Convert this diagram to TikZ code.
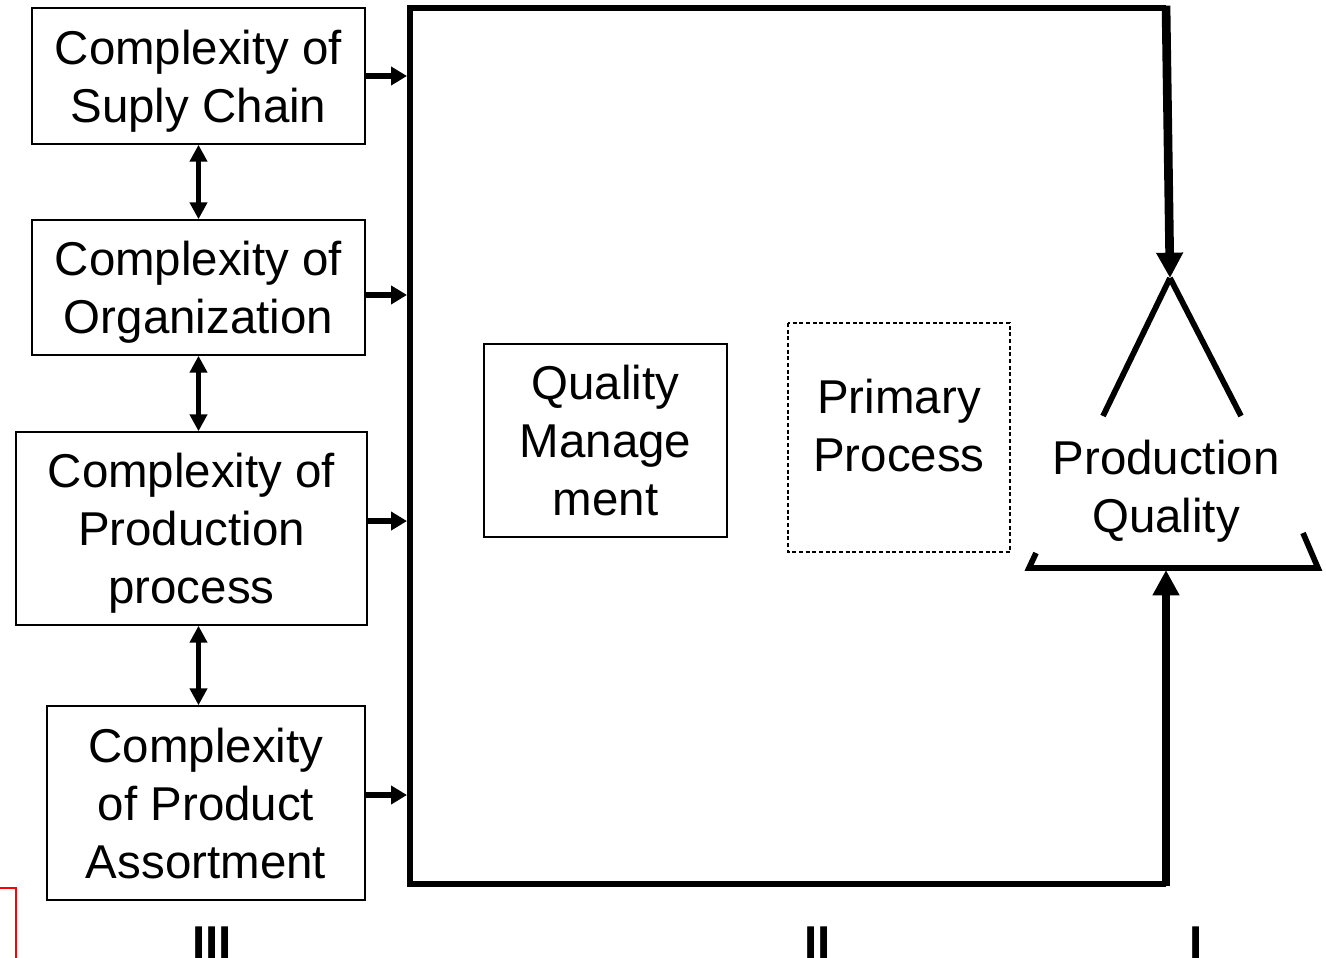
\documentclass[tikz,border=0pt]{standalone}
\usepackage{fontspec}
\setmainfont{Liberation Sans}
\usetikzlibrary{arrows.meta}
\begin{document}
\begin{tikzpicture}[x=0.75pt,y=-0.75pt,
  every node/.style={font=\fontsize{35.6}{43.5}\selectfont, inner sep=0pt, align=center, text depth=0pt},
  factor/.style={draw, line width=1.1pt},
  link/.style={line width=4pt, -{Triangle[length=12pt,width=13.5pt]}},
  twoway/.style={line width=4pt, {Triangle[length=12.75pt,width=12.75pt]}-{Triangle[length=12.75pt,width=12.75pt]}},
  feed/.style={line width=6.5pt, -{Triangle[length=19pt,width=19pt]}},
  pyramid/.style={line width=4.3pt},
  level/.style={anchor=base, font=\fontsize{35.6}{43.5}\selectfont\bfseries}
]
\useasboundingbox (0,0) rectangle (1326,957);

% complexity factors
\node[factor, minimum width=249.75pt, minimum height=102pt] (s1) at (198.5,76) {Complexity of\\Suply Chain};
\node[factor, minimum width=249.75pt, minimum height=101.25pt] (s2) at (198.5,287.5) {Complexity of\\Organization};
\node[factor, minimum width=263.25pt, minimum height=144.75pt] (s3) at (191.5,528.5) {Complexity of\\Production\\process};
\node[factor, minimum width=238.5pt, minimum height=145.5pt] (s4) at (206,803) {Complexity\\of Product\\Assortment};

% company frame, open on the right where the quality triangle sits
\coordinate (ne) at (1166,8);
\coordinate (nw) at (410,8);
\coordinate (sw) at (410,884);
\coordinate (se) at (1166,884);
\coordinate (fw) at (407,0);
\draw[line width=4.5pt, line join=miter] (ne) -- (nw) -- (sw) -- (se);

% inner blocks
\node[factor, minimum width=182.25pt, minimum height=144.75pt] (qm) at (605.5,440.5) {Quality\\Manage\\ment};
\draw[dashed, line width=0.8pt, dash pattern=on 3pt off 2pt] (788,323) rectangle (1010,552);
\node (pp) at (899,425) {Primary\\Process};

% production quality triangle
\coordinate (apex) at (1170,278);
\coordinate (base) at (1166,570);
\draw[pyramid] (apex) -- (1103,416);
\draw[pyramid] (apex) -- (1241,416);
\draw[pyramid, line join=miter] (1036,553) -- (1029,568) -- (1318,568) -- (1303,533);
\node (pq) at (1166,486) {Production\\Quality};

% connectors
\draw[link] (s1.east) -- (s1.east -| fw);
\draw[link] ([yshift=-5.6pt]s2.east) -- ([yshift=-5.6pt]s2.east -| fw);
\draw[link] ([yshift=5.6pt]s3.east) -- ([yshift=5.6pt]s3.east -| fw);
\draw[link] ([yshift=6pt]s4.east) -- ([yshift=6pt]s4.east -| fw);
\draw[twoway] (s1.south) -- (s1.south |- s2.north);
\draw[twoway] (s2.south) -- (s2.south |- s3.north);
\draw[twoway] (s2.south |- s3.south) -- (s2.south |- s4.north);
\draw[feed] ([yshift=1.7pt]ne) -- (apex);
\draw[feed] ([yshift=-1.7pt]se) -- (base);

% levels
\node[level] (l3) at (212,959) {III};
\node[level] (l2) at (817.5,959) {II};
\node[level] (l1) at (1196,959) {I};

% edge of neighbouring frame
\draw[red, line width=0.8pt] (0,888) -- (16,888) -- (16,960);
\end{tikzpicture}
\end{document}
